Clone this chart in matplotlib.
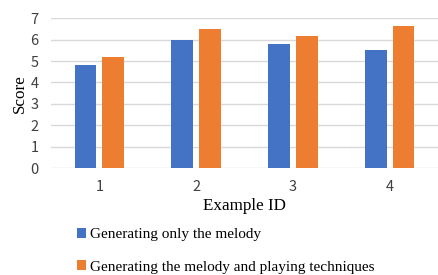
import numpy as np
import matplotlib
matplotlib.use("Agg")
import matplotlib.pyplot as plt

# data
example_ids = ["1", "2", "3", "4"]
melody_only = [4.8, 6.0, 5.8, 5.5]
melody_and_techniques = [5.2, 6.5, 6.15, 6.65]
series_labels = ["Generating only the melody",
                 "Generating the melody and playing techniques"]
y_ticks = [0, 1, 2, 3, 4, 5, 6, 7]

BLUE = "#4472C4"
ORANGE = "#ED7D31"
GRID = "#D9D9D9"
serif = "Liberation Serif"
sans = "Noto Sans CJK SC"

fig = plt.figure(figsize=(4.38, 2.75), dpi=100)
ax = fig.add_axes([51 / 438, 1 - 168 / 275, 1 - 51 / 438, (168 - 18.3) / 275])

x = np.arange(len(example_ids))
w = 0.225
off = 0.144
b1 = ax.bar(x - off, melody_only, width=w, color=BLUE, label=series_labels[0], zorder=3)
b2 = ax.bar(x + off, melody_and_techniques, width=w, color=ORANGE, label=series_labels[1], zorder=3)

ax.set_xlim(-0.5, len(example_ids) - 0.5)
ax.set_ylim(0, 7)
ax.set_yticks(y_ticks)
ax.set_xticks(x)
ax.set_xticklabels(example_ids)
ax.yaxis.grid(True, color=GRID, linewidth=1.0, zorder=0)
ax.set_axisbelow(True)
for s in ax.spines.values():
    s.set_visible(False)
ax.tick_params(length=0, labelsize=10.5, colors="#404040")
ax.tick_params(axis="y", pad=9)
ax.tick_params(axis="x", pad=8.5)
for lbl in ax.get_xticklabels() + ax.get_yticklabels():
    lbl.set_fontfamily(sans)

ax.set_ylabel("Score", fontfamily=serif, fontsize=12.3, labelpad=2)
ax.set_xlabel("Example ID", fontfamily=serif, fontsize=12.3, labelpad=3)

fig.legend(handles=[b1, b2], labels=series_labels, loc="upper left",
           bbox_to_anchor=(77 / 438, 1 - 228 / 275), frameon=False,
           prop={"family": serif, "size": 11}, handlelength=0.6, handleheight=0.6,
           handletextpad=0.25, labelspacing=1.25, borderaxespad=0, borderpad=0)

fig.savefig("out.png", dpi=100)
